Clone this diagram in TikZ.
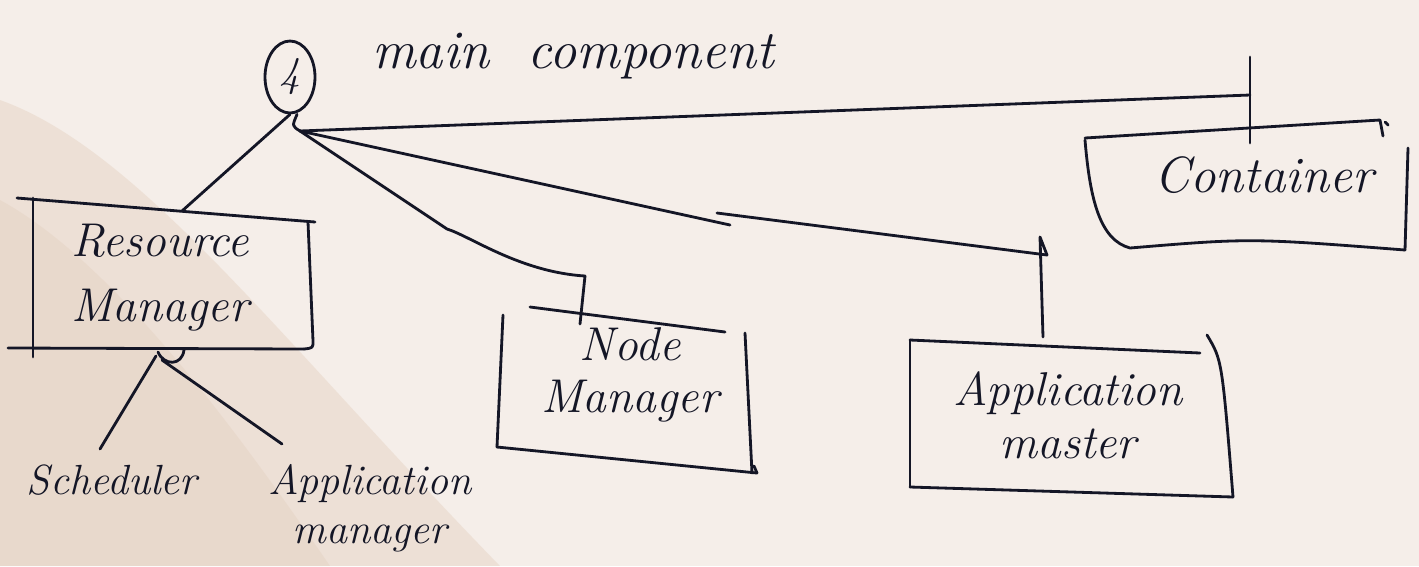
\documentclass[tikz,border=0pt]{standalone}
\usetikzlibrary{shapes.geometric}
\definecolor{ink}{RGB}{20,22,38}
\definecolor{paper}{RGB}{245,238,233}
\definecolor{stain}{RGB}{210,178,150}
\tikzset{
  pen/.style={draw=ink, line width=1.6pt, line cap=round, line join=round},
  hand/.style 2 args={text=ink, inner sep=0pt, align=center, font=\itshape\fontsize{#1}{#2}\selectfont},
  ringnode/.style={pen, ellipse, minimum width=1cm, minimum height=1.44cm, inner sep=0pt, text=ink, font=\itshape\fontsize{24}{28}\selectfont},
}
\begin{document}
\begin{tikzpicture}[x=0.02cm,y=-0.02cm]
% paper
\fill[paper] (0,0) rectangle (1419,566);
\useasboundingbox (0,0) rectangle (1419,566);
\fill[stain, opacity=0.22] (0,100) .. controls (140,150) and (280,340) .. (500,566) -- (0,566) -- cycle;
\fill[stain, opacity=0.15] (0,200) .. controls (110,260) and (230,420) .. (330,566) -- (0,566) -- cycle;

% title
\node[ringnode] (four) at (290,77) {4};
\node[hand={31}{34}, anchor=west] (title) at (372,56) {main\ \ component};

% boxes: Resource Manager
\node[hand={27}{37}] (rm) at (160,278) {Resource\\Manager};
\draw[pen] (17,198) -- (315,222);
\draw[pen] (33,198) -- (33,357);
\draw[pen] (308,222) -- (313,341) .. controls (313,348) .. (304,349);
\draw[pen] (8,348) -- (304,349);
\coordinate (rmtop) at (182,211);
\coordinate (rmbot) at (158,352);
\draw[pen] (rmbot) .. controls (164,366) and (182,366) .. (184,350);

% Scheduler and Application manager
\node[hand={24}{28}] (sched) at (112,480) {Scheduler};
\node[hand={24}{28}] (appmgr) at (370,508) {Application\\manager};
\coordinate (schedtop) at (100,449);
\coordinate (appmgrtop) at (282,444);

% Node Manager
\node[hand={27}{30}] (nm) at (630,375) {Node\\Manager};
\draw[pen] (530,307) -- (725,332);
\draw[pen] (503,315) -- (497,447);
\draw[pen] (497,447) -- (757,473) -- (754,466);
\draw[pen] (745,333) -- (752,473);
\coordinate (nmjoin) at (585,276);
\coordinate (nmtop) at (580,324);

% Application master
\node[hand={27}{30}] (am) at (1068,415) {Application\\master};
\draw[pen] (910,340) -- (1200,353);
\draw[pen] (910,340) -- (910,487);
\draw[pen] (910,487) -- (1233,497);
\draw[pen] (1207,335) .. controls (1222,360) .. (1233,497);
\coordinate (amtop) at (1043,337);
\coordinate (amjoin) at (1047,255);
\coordinate (amkink) at (1040,237);

% Container
\node[hand={29}{32}] (ct) at (1264,175) {Container};
\draw[pen] (1085,138) -- (1380,120) -- (1383,136);
\draw[pen] (1085,140) .. controls (1090,200) and (1100,240) .. (1130,248)
  .. controls (1250,238) .. (1405,250);
\draw[pen] (1408,148) -- (1405,250);
\draw[pen] (1388,125) -- (1385,122);
\coordinate (cttop) at (1250,143);
\coordinate (ctjoin) at (1250,95);

% connectors from the main component
\coordinate (fork) at (300,131);
\draw[pen] (four.south) -- (rmtop);
\draw[pen] ([xshift=4]four.south) .. controls (292,126) .. (fork);
\draw[pen] (fork) -- (ctjoin);
\draw[pen] (1250,57) -- (cttop);
\draw[pen] (fork) -- (447,229) .. controls (470,236) and (520,272) .. (nmjoin);
\draw[pen] (nmjoin) -- (nmtop);
\draw[pen] (fork) -- (730,225);
\draw[pen] (717,213) -- (amjoin);
\draw[pen] (amjoin) -- (amkink) -- (amtop);

% Resource Manager children
\draw[pen] (rmbot) ++(-2,4) -- (schedtop);
\draw[pen] (rmbot) ++(4,8) -- (appmgrtop);
\end{tikzpicture}
\end{document}
